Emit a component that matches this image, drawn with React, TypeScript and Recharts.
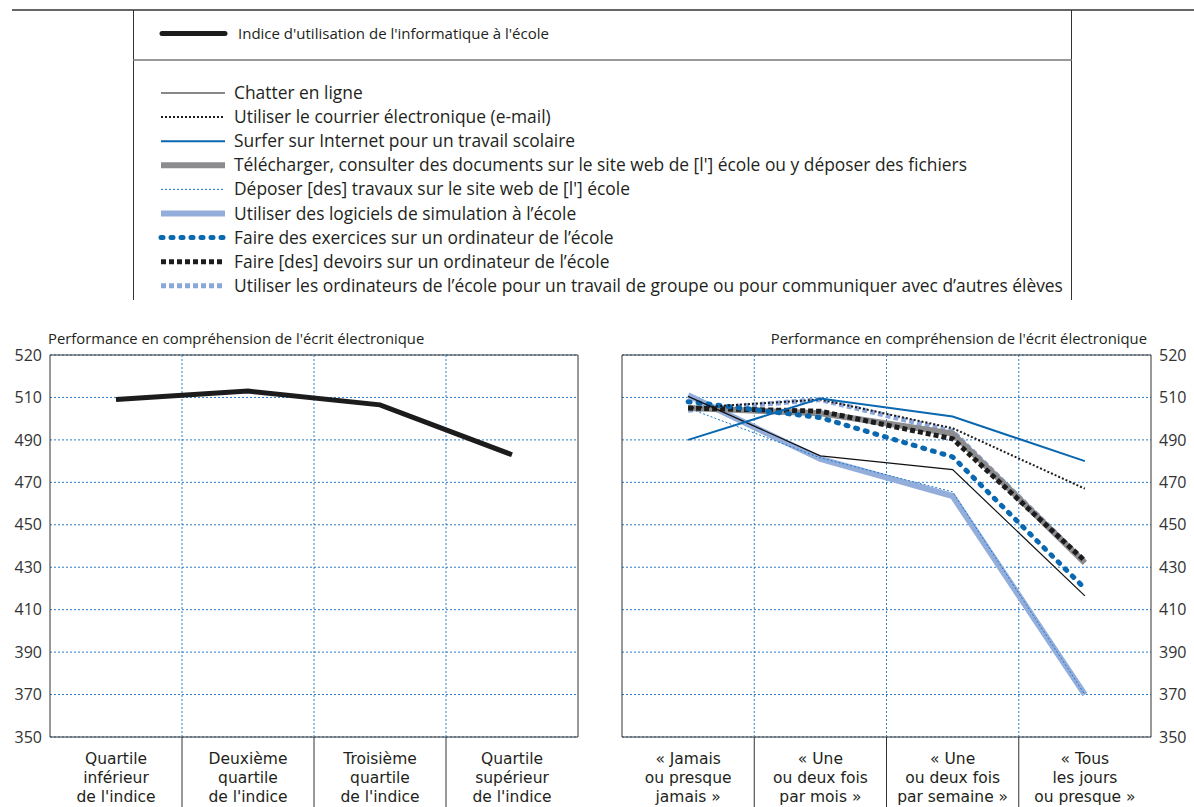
import React from 'react';
import { LineChart, Line, XAxis, YAxis, CartesianGrid, ReferenceLine, ReferenceArea } from 'recharts';

// categories (each label split into its three printed lines)
const quartileLabels = [
  ['Quartile', 'inférieur', "de l'indice"],
  ['Deuxième', 'quartile', "de l'indice"],
  ['Troisième', 'quartile', "de l'indice"],
  ['Quartile', 'supérieur', "de l'indice"],
];
const frequencyLabels = [
  ['« Jamais', 'ou presque', 'jamais »'],
  ['« Une', 'ou deux fois', 'par mois »'],
  ['« Une', 'ou deux fois', 'par semaine »'],
  ['« Tous', 'les jours', 'ou presque »'],
];

// y ticks; the top gridline is printed "520" in the original
const yTicks = [350, 370, 390, 410, 430, 450, 470, 490, 510, 530];
const yTickLabels = ['350', '370', '390', '410', '430', '450', '470', '490', '510', '520'];

// left panel
const indexValues = [509, 513, 506.5, 483];

// right panel
const chatterValues = [510.5, 482.5, 476, 416.5];
const emailValues = [505, 509, 495.5, 467];
const surferValues = [490, 509.5, 501, 480];
const downloadValues = [505, 502.5, 493, 432];
const uploadValues = [505, 481.5, 465.5, 370];
const simulationValues = [511, 481, 463.5, 370];
const exerciseValues = [508, 500.5, 482, 420];
const homeworkValues = [505, 503.5, 490.5, 433];
const groupValues = [504, 509, 494, 432.5];

const FONT = '"Open Sans", sans-serif';
const LABEL_FONT = '"DejaVu Sans", sans-serif';
const TEXT = '#231f20';
const BLUE = '#0a68b0';
const GRID = '#2a7cc4';

const indexSeries = { key: 'index', name: "Indice d'utilisation de l'informatique à l'école", color: '#1c1c1c', width: 5, dash: undefined as string | undefined, cap: 'butt' };

// draw order = z order
const rightSeries = [
  { key: 'simulation', values: simulationValues, name: 'Utiliser des logiciels de simulation à l’école', color: '#94aedc', width: 6, dash: undefined, cap: 'butt' },
  { key: 'upload', values: uploadValues, name: "Déposer [des] travaux sur le site web de [l'] école", color: '#1b78c8', width: 1, dash: '2 2', cap: 'butt' },
  { key: 'group', values: groupValues, name: 'Utiliser les ordinateurs de l’école pour un travail de groupe ou pour communiquer avec d’autres élèves', color: '#8aa6da', width: 5, dash: '5 3', cap: 'butt' },
  { key: 'download', values: downloadValues, name: "Télécharger, consulter des documents sur le site web de [l'] école ou y déposer des fichiers", color: '#8c8c8e', width: 6, dash: undefined, cap: 'butt' },
  { key: 'homework', values: homeworkValues, name: 'Faire [des] devoirs sur un ordinateur de l’école', color: '#1c1c1c', width: 5, dash: '5 3', cap: 'butt' },
  { key: 'exercise', values: exerciseValues, name: 'Faire des exercices sur un ordinateur de l’école', color: BLUE, width: 5, dash: '2 8', cap: 'round' },
  { key: 'email', values: emailValues, name: 'Utiliser le courrier électronique (e-mail)', color: '#1c1c1c', width: 2, dash: '2 2', cap: 'butt' },
  { key: 'chatter', values: chatterValues, name: 'Chatter en ligne', color: '#111', width: 1.2, dash: undefined, cap: 'butt' },
  { key: 'surfer', values: surferValues, name: 'Surfer sur Internet pour un travail scolaire', color: BLUE, width: 2, dash: undefined, cap: 'butt' },
];

const legendOrder = ['chatter', 'email', 'surfer', 'download', 'upload', 'simulation', 'exercise', 'homework', 'group'];

const leftData = indexValues.map((v, i) => ({ x: i + 0.5, index: v }));
const rightData = frequencyLabels.map((_, i) => {
  const row: Record<string, number> = { x: i + 0.5 };
  rightSeries.forEach(s => { row[s.key] = s.values[i]; });
  return row;
});

const xTicks = [0.5, 1, 1.5, 2, 2.5, 3, 3.5];

const CategoryTick = (props: any) => {
  const { x, y, payload, labels } = props;
  const v = payload.value;
  if (Number.isInteger(v)) {
    return <line x1={x} x2={x} y1={y} y2={y + 72} stroke="#333" strokeWidth={1} />;
  }
  const lines: string[] = labels[Math.floor(v)];
  return (
    <g>
      {lines.map((l, i) => (
        <text key={i} x={x} y={y + 27 + i * 19} textAnchor="middle" fontSize={15.5} fill={TEXT} fontFamily={LABEL_FONT}>
          {l}
        </text>
      ))}
    </g>
  );
};

const yFormat = (v: number) => yTickLabels[yTicks.indexOf(v)] ?? String(v);

const Panel = ({ data, labels, side, children }: any) => (
  <LineChart
    width={side === 'left' ? 600 : 594}
    height={487}
    data={data}
    margin={side === 'left' ? { top: 35, right: 22, bottom: 0, left: 0 } : { top: 35, right: 0, bottom: 0, left: 22 }}
  >
    <CartesianGrid vertical={false} stroke={GRID} strokeDasharray="2 2" />
    {[1, 2, 3].map(v => (
      <ReferenceLine key={v} x={v} stroke={GRID} strokeDasharray="2 2" />
    ))}
    <XAxis
      dataKey="x"
      type="number"
      domain={[0, 4]}
      ticks={xTicks}
      interval={0}
      height={70}
      axisLine={false}
      tickLine={false}
      tickSize={0}
      tickMargin={0}
      tick={<CategoryTick labels={labels} />}
    />
    <YAxis
      orientation={side === 'left' ? 'left' : 'right'}
      width={side === 'left' ? 50 : 43}
      type="number"
      domain={[350, 530]}
      ticks={yTicks}
      interval={0}
      axisLine={false}
      tickLine={false}
      tickFormatter={yFormat}
      tick={{ fontSize: 16, fill: '#333', fontFamily: FONT }}
    />
    <ReferenceArea x1={0} x2={4} y1={350} y2={530} fill="none" stroke="#333" strokeWidth={1} ifOverflow="visible" />
    {children}
  </LineChart>
);

const LegendSwatch = ({ y, s, x1 = 161, x2 = 225 }: any) => (
  <line x1={x1} x2={x2} y1={y} y2={y} stroke={s.color} strokeWidth={s.width} strokeDasharray={s.dash} strokeLinecap={s.cap} />
);

const App = () => {
  const legendItems = legendOrder.map(k => rightSeries.find(s => s.key === k)!);
  return (
    <div style={{ position: 'absolute', left: 0, top: 0, width: 1194, height: 807, background: '#fff', fontFamily: FONT, color: TEXT, overflow: 'hidden' }}>
      <svg width={1194} height={305} style={{ position: 'absolute', left: 0, top: 0 }}>
        <line x1={12} x2={1194} y1={10} y2={10} stroke="#333" strokeWidth={1.5} />
        <line x1={133.5} x2={133.5} y1={10} y2={300} stroke="#333" strokeWidth={1} />
        <line x1={1071.5} x2={1071.5} y1={10} y2={300} stroke="#333" strokeWidth={1} />
        <line x1={133} x2={1072} y1={60} y2={60} stroke="#777" strokeWidth={1.5} />
        <LegendSwatch y={33.5} s={{ ...indexSeries, width: 5, cap: 'round' }} x1={162} x2={225} />
        <text x={238} y={38.5} fontSize={15} fill={TEXT} fontFamily={FONT}>{indexSeries.name}</text>
        {legendItems.map((s, i) => {
          const y = 93 + i * 24.1;
          return (
            <g key={s.key}>
              <LegendSwatch y={y} s={s} />
              <text x={234} y={y + 6} fontSize={17.4} fill={TEXT} fontFamily={FONT}>{s.name}</text>
            </g>
          );
        })}
      </svg>

      <div style={{ position: 'absolute', left: 48, top: 328, fontSize: 14.8, whiteSpace: 'nowrap' }}>
        Performance en compréhension de l'écrit électronique
      </div>
      <div style={{ position: 'absolute', right: 47, top: 328, fontSize: 14.8, whiteSpace: 'nowrap' }}>
        Performance en compréhension de l'écrit électronique
      </div>

      <div style={{ position: 'absolute', left: 0, top: 320 }}>
        <Panel data={leftData} labels={quartileLabels} side="left">
          <Line
            dataKey="index"
            name={indexSeries.name}
            stroke={indexSeries.color}
            strokeWidth={indexSeries.width}
            dot={false}
            activeDot={false}
            isAnimationActive={false}
          />
        </Panel>
      </div>

      <div style={{ position: 'absolute', left: 600, top: 320 }}>
        <Panel data={rightData} labels={frequencyLabels} side="right">
          {rightSeries.map(s => (
            <Line
              key={s.key}
              dataKey={s.key}
              name={s.name}
              stroke={s.color}
              strokeWidth={s.width}
              strokeDasharray={s.dash}
              strokeLinecap={s.cap as any}
              dot={false}
              activeDot={false}
              isAnimationActive={false}
            />
          ))}
        </Panel>
      </div>
    </div>
  );
};

export default App;
